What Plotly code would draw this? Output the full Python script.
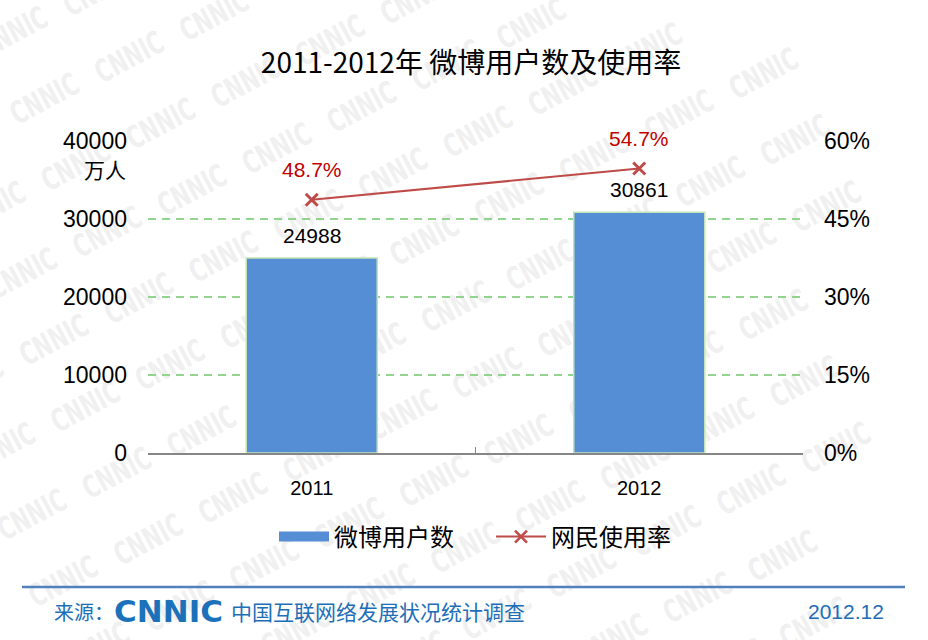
import base64
import plotly.graph_objects as go

# 2011-2012 微博用户数（万人）及网民使用率（%）
years = ["2011", "2012"]
weibo_users = [24988, 30861]
usage_rate = [48.7, 54.7]

bar_labels = ["24988", "30861"]
rate_labels = ["48.7%", "54.7%"]

left_ticks = [0, 10000, 20000, 30000, 40000]
right_ticks = [0, 15, 30, 45, 60]
right_tick_text = ["0%", "15%", "30%", "45%", "60%"]

W, H = 928, 640
L, R, T, B = 148, 125, 141, 187
PW, PH = W - L - R, H - T - B

BLUE = "#558ed5"
RED = "#be4b48"
FOOT = "#1e6eb7"
LATIN = "Liberation Sans, Arial, sans-serif"
CJK = "Noto Sans CJK SC, sans-serif"


def px(x):
    # pixel x -> paper x (paper is the plot area)
    return (x - L) / PW


def py(y):
    return (H - B - y) / PH


def watermark():
    # faint CNNIC background pattern
    items = []
    for i in range(-3, 9):
        for j in range(-4, 14):
            x = 50 + 140 * i + 32 * j
            y = 88 + 10 * i + 54 * j
            if -80 < x < W + 80 and -40 < y < H + 40:
                items.append(
                    f'<text x="{x}" y="{y}" transform="rotate(-28 {x} {y}) scale(0.8 1.2)" '
                    'text-anchor="middle" font-family="DejaVu Sans" '
                    'font-weight="bold" font-size="26" fill="#f0f0f0">CNNIC</text>')
    svg = (f'<svg xmlns="http://www.w3.org/2000/svg" width="{W}" height="{H}">'
           + "".join(items) + "</svg>")
    return "data:image/svg+xml;base64," + base64.b64encode(svg.encode()).decode()


fig = go.Figure()

fig.add_trace(go.Bar(
    x=years, y=weibo_users, width=0.4,
    marker=dict(color=BLUE, line=dict(color="#c2e3b4", width=1.5)),
    showlegend=False, hoverinfo="x+y",
))
fig.add_trace(go.Scatter(
    x=years, y=usage_rate, yaxis="y2", mode="lines+markers",
    line=dict(color=RED, width=2),
    marker=dict(symbol="x-thin-open", size=12, line=dict(color="#a85a5c", width=3)),
    showlegend=False,
))

# legend entries
fig.add_trace(go.Scatter(
    x=[None], y=[None], mode="lines", name="微博用户数",
    line=dict(color=BLUE, width=10),
))
fig.add_trace(go.Scatter(
    x=[None], y=[None], yaxis="y2", mode="lines+markers", name="网民使用率",
    line=dict(color=RED, width=2),
    marker=dict(symbol="x-thin-open", size=12, line=dict(color=RED, width=2.5)),
))

for i, (v, t) in enumerate(zip(weibo_users, bar_labels)):
    fig.add_annotation(x=i, y=v, xref="x", yref="y", text=t, showarrow=False,
                       yshift=23, font=dict(size=21, color="black", family=LATIN))
for i, (v, t) in enumerate(zip(usage_rate, rate_labels)):
    fig.add_annotation(x=i, y=v, xref="x", yref="y2", text=t, showarrow=False,
                       yshift=30, font=dict(size=21, color="#c00000", family=LATIN))

fig.add_annotation(x=px(128), y=py(169), xref="paper", yref="paper", text="万人",
                   showarrow=False, xanchor="right", yanchor="middle",
                   font=dict(size=21, color="black", family=CJK))

# footer
fig.add_shape(type="line", xref="paper", yref="paper",
              x0=px(22), x1=px(905), y0=py(587), y1=py(587),
              line=dict(color="#4f81bd", width=2.5))
fig.add_annotation(x=px(52), y=py(611), xref="paper", yref="paper", text="来源：",
                   showarrow=False, xanchor="left", yanchor="middle",
                   font=dict(size=20, color=FOOT, family=CJK))
fig.add_annotation(x=px(112), y=py(611), xref="paper", yref="paper", text="<b>CNNIC</b>",
                   showarrow=False, xanchor="left", yanchor="middle",
                   font=dict(size=31, color="#1b72ba", family="DejaVu Sans"))
fig.add_annotation(x=px(229), y=py(611), xref="paper", yref="paper",
                   text="中国互联网络发展状况统计调查",
                   showarrow=False, xanchor="left", yanchor="middle",
                   font=dict(size=21, color=FOOT, family=CJK))
fig.add_annotation(x=px(886), y=py(611), xref="paper", yref="paper", text="2012.12",
                   showarrow=False, xanchor="right", yanchor="middle",
                   font=dict(size=21, color=FOOT, family=LATIN))

fig.add_layout_image(
    source=watermark(), xref="paper", yref="paper",
    x=px(0), y=py(0), sizex=W / PW, sizey=H / PH,
    xanchor="left", yanchor="top", sizing="stretch", layer="below",
)

fig.update_layout(
    width=W, height=H, autosize=False,
    margin=dict(l=L, r=R, t=T, b=B, pad=0, autoexpand=False),
    paper_bgcolor="white", plot_bgcolor="rgba(0,0,0,0)",
    font=dict(family=LATIN, color="black"),
    title=dict(text="2011-2012年 微博用户数及使用率", x=471 / W, y=1 - 63 / H,
               xref="container", yref="container", xanchor="center", yanchor="middle",
               font=dict(size=28, color="black", family=CJK)),
    xaxis=dict(type="category", range=[-0.5, 1.5], showline=True,
               linecolor="#868686", linewidth=1.5, ticks="inside",
               tickson="boundaries", ticklen=6, tickcolor="#868686",
               tickfont=dict(size=20, family=LATIN), ticklabelstandoff=16,
               showgrid=False, zeroline=False, automargin=False),
    yaxis=dict(range=[0, 40000], tickvals=left_ticks, tickformat="d", showgrid=True,
               gridcolor="#92d48e", griddash="8px,6px", gridwidth=1.5,
               zeroline=False, showline=False, ticks="", automargin=False,
               tickfont=dict(size=23, family=LATIN), ticklabelstandoff=20),
    yaxis2=dict(range=[0, 60], tickvals=right_ticks, ticktext=right_tick_text,
                overlaying="y", side="right", showgrid=False, zeroline=False,
                showline=False, ticks="", automargin=False,
                tickfont=dict(size=23, family=LATIN), ticklabelstandoff=20),
    legend=dict(orientation="h", x=px(274), y=py(537), xanchor="left",
                yanchor="middle", font=dict(size=24, family=CJK, color="black"),
                itemwidth=50, entrywidth=152, bgcolor="rgba(0,0,0,0)",
                traceorder="normal"),
    hovermode="x",
)

# drop the page's default body margin so the figure sits at the window's corner
fig.write_html("out.html", config={"displayModeBar": False},
               post_script="document.body.style.margin = '0';")
